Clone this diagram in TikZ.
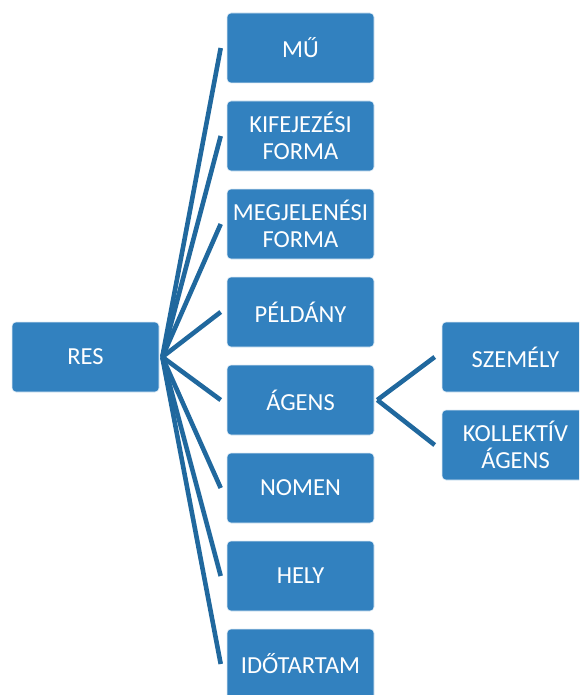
\documentclass[tikz,border=0pt]{standalone}
\usepackage{fontspec}
\setmainfont{Carlito}
\definecolor{boxblue}{RGB}{50,129,191}
\definecolor{lineblue}{RGB}{32,104,158}
\begin{document}
\begin{tikzpicture}[x=1pt, y=-1pt,
	box/.style={rectangle, rounded corners=4pt, fill=boxblue, draw=white!85!boxblue, line width=0.6pt, minimum width=147pt, minimum height=70pt, inner sep=0pt, text=white, align=center, font=\fontsize{24.5pt}{27pt}\selectfont},
	link/.style={line width=4.6pt, color=lineblue}]
		\useasboundingbox (0,0) rectangle (579,695);
		\clip (0,0) rectangle (579,695);
		\node[box](res) at (85.5,357){RES};
		\node[box](mu) at (300.5,48){MŰ};
		\node[box](kifejezesi) at (300.5,136){KIFEJEZÉSI\\FORMA};
		\node[box](megjelenesi) at (300.5,224){MEGJELENÉSI\\FORMA};
		\node[box](peldany) at (300.5,312){PÉLDÁNY};
		\node[box](agens) at (300.5,400){ÁGENS};
		\node[box](nomen) at (300.5,488){NOMEN};
		\node[box](hely) at (300.5,576){HELY};
		\node[box](idotartam) at (300.5,664){IDŐTARTAM};
		\node[box](szemely) at (515.5,357){SZEMÉLY};
		\node[box](kollektiv) at (515.5,445){KOLLEKTÍV\\ÁGENS};

		\coordinate (reshub) at ([xshift=3pt]res.east);
		\coordinate (agenshub) at ([xshift=3pt]agens.east);
		\draw [link] (reshub) -- ([xshift=-6pt]mu.west);
		\draw [link] (reshub) -- ([xshift=-6pt]kifejezesi.west);
		\draw [link] (reshub) -- ([xshift=-6pt]megjelenesi.west);
		\draw [link] (reshub) -- ([xshift=-6pt]peldany.west);
		\draw [link] (reshub) -- ([xshift=-6pt]agens.west);
		\draw [link] (reshub) -- ([xshift=-6pt]nomen.west);
		\draw [link] (reshub) -- ([xshift=-6pt]hely.west);
		\draw [link] (reshub) -- ([xshift=-6pt]idotartam.west);

		\draw [link] (agenshub) -- ([xshift=-7pt]szemely.west);
		\draw [link] (agenshub) -- ([xshift=-7pt]kollektiv.west);
	\end{tikzpicture}
\end{document}
